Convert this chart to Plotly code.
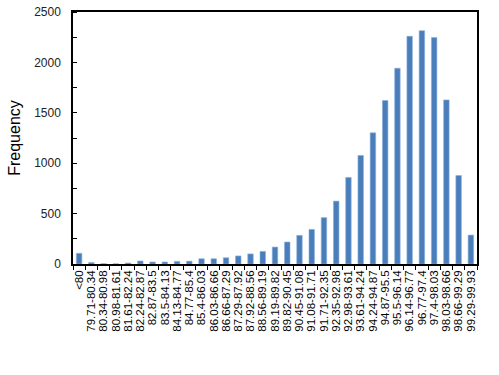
import plotly.graph_objects as go

categories = ["<80", "79.71-80.34", "80.34-80.98", "80.98-81.61", "81.61-82.24",
              "82.24-82.87", "82.87-83.5", "83.5-84.13", "84.13-84.77", "84.77-85.4",
              "85.4-86.03", "86.03-86.66", "86.66-87.29", "87.29-87.92", "87.92-88.56",
              "88.56-89.19", "89.19-89.82", "89.82-90.45", "90.45-91.08", "91.08-91.71",
              "91.71-92.35", "92.35-92.98", "92.98-93.61", "93.61-94.24", "94.24-94.87",
              "94.87-95.5", "95.5-96.14", "96.14-96.77", "96.77-97.4", "97.4-98.03",
              "98.03-98.66", "98.66-99.29", "99.29-99.93"]
frequency = [106, 15, 3, 2, 10, 30, 20, 20, 26, 28,
             52, 52, 62, 80, 100, 125, 168, 218, 284, 343,
             460, 624, 859, 1077, 1301, 1622, 1942, 2259, 2315, 2246,
             1628, 878, 287]
y_ticks = [0, 500, 1000, 1500, 2000, 2500]

fig = go.Figure(go.Bar(
    x=categories, y=frequency,
    marker=dict(color="#4A7EBB", line=dict(color="#8DB0DE", width=0.6)),
))

fig.update_layout(
    width=499, height=375,
    margin=dict(l=73, r=22, t=12, b=111),
    paper_bgcolor="white", plot_bgcolor="white",
    bargap=0.55,
    showlegend=False,
    font=dict(family="Arial, Liberation Sans, sans-serif", color="#000"),
)
fig.update_xaxes(
    type="category", tickangle=-90, tickfont=dict(size=11.5),
    tickmode="array", tickvals=categories, ticktext=categories,
    showline=True, linecolor="black", linewidth=1.5, mirror=True,
    ticks="outside", ticklen=4, tickcolor="black", tickwidth=1,
    tickson="boundaries", showgrid=False, automargin=False,
)
fig.update_yaxes(
    range=[0, 2500], tickvals=y_ticks, tickfont=dict(size=12, color="#222"),
    showline=True, linecolor="black", linewidth=1.5, mirror=True,
    ticks="", ticklabelstandoff=8, ticklabeloverflow="allow",
    showgrid=False, zeroline=False,
    minor=dict(ticks="inside", ticklen=4, dtick=250, tickcolor="black", tickwidth=1, showgrid=False),
    title=dict(text="Frequency", font=dict(size=16), standoff=10),
    automargin=False,
)

fig.write_html(
    "out.html",
    config={"displayModeBar": False},
    post_script="document.body.style.margin='0';document.body.style.overflow='hidden';",
)
